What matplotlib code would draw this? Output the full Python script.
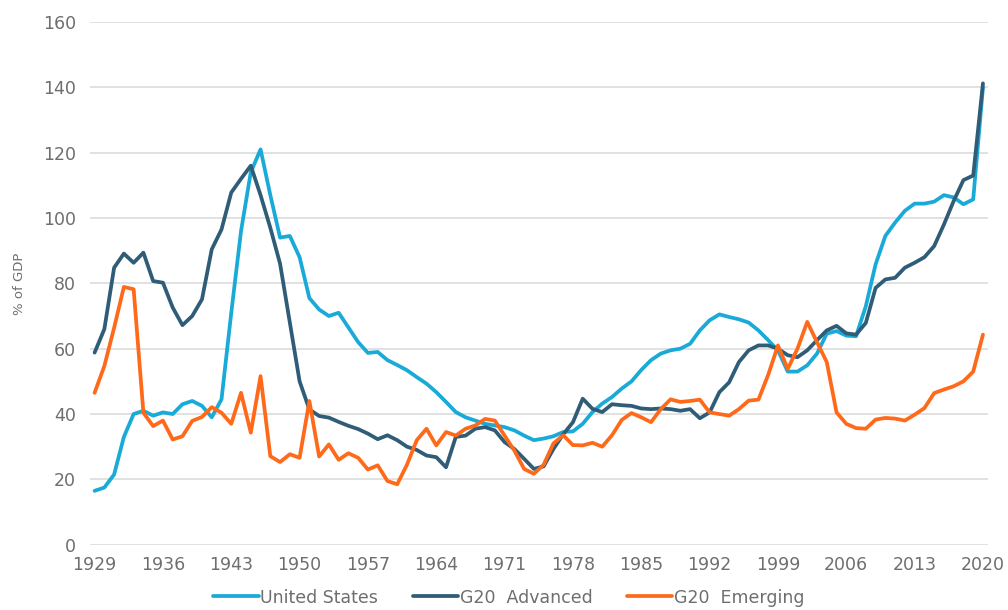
import matplotlib
matplotlib.use("Agg")
import matplotlib.pyplot as plt

years = list(range(1929, 2021))

united_states = [
    16.5, 17.5, 21.5, 33, 40, 41, 39.5, 40.5, 40, 43,
    44, 42.5, 39, 44.5, 71, 96, 114, 121, 107, 94,
    94.5, 88, 75.5, 72, 70, 71, 66.5, 62, 58.7, 59,
    56.5, 55, 53.4, 51.3, 49.3, 46.7, 43.7, 40.6, 39, 38,
    37, 36.5, 36, 35, 33.4, 32, 32.5, 33.2, 34.5, 34.7,
    37, 40.6, 43.2, 45.2, 47.8, 50, 53.5, 56.5, 58.5, 59.5,
    60, 61.5, 65.6, 68.7, 70.5, 69.7, 69, 68, 65.6, 62.6,
    59.5, 53, 53, 54.9, 58.5, 64.6, 65.4, 64, 63.8, 73,
    85.8, 94.5, 98.6, 102.2, 104.4, 104.4, 105, 107, 106.3, 104.2,
    105.7, 140,
]

g20_advanced = [
    58.8, 66, 84.8, 89.1, 86.3, 89.4, 80.7, 80.2, 72.6, 67.2,
    70, 75.1, 90.4, 96.5, 107.8, 112, 116, 107, 97, 86,
    68, 50, 41.4, 39.4, 38.9, 37.6, 36.4, 35.4, 34, 32.3,
    33.5, 32, 30, 29, 27.3, 26.8, 23.7, 33, 33.4, 35.5,
    36, 35, 31.4, 29.3, 26.3, 23.2, 24, 29.3, 33.8, 37.5,
    44.7, 41.6, 40.6, 43, 42.7, 42.5, 41.7, 41.5, 41.7, 41.5,
    41, 41.5, 38.7, 40.5, 46.7, 49.7, 55.9, 59.5, 61, 61,
    60, 58, 57.4, 59.5, 62.6, 65.6, 67, 64.7, 64.3, 67.9,
    78.6, 81.2, 81.7, 84.8, 86.3, 88, 91.4, 98, 105.2, 111.6,
    113, 141.2,
]

g20_emerging = [
    46.5, 54.7, 66.4, 78.9, 78.2, 40.4, 36.3, 38, 32.2, 33.2,
    37.9, 39.1, 42.1, 40.4, 37, 46.5, 34.3, 51.6, 27.1, 25.3,
    27.7, 26.6, 44, 27, 30.7, 26, 28, 26.6, 23, 24.3,
    19.5, 18.5, 24.5, 32, 35.5, 30.4, 34.5, 33.4, 35.5, 36.5,
    38.5, 38, 33.4, 28.8, 23.2, 21.7, 24.5, 31, 33.5, 30.5,
    30.4, 31.2, 30, 33.5, 38.2, 40.3, 39, 37.5, 41.5, 44.5,
    43.7, 44, 44.4, 40.5, 40, 39.5, 41.5, 44.1, 44.4, 52,
    61, 53.8, 60, 68.2, 62, 55.9, 40.5, 37, 35.7, 35.5,
    38.3, 38.8, 38.6, 38, 39.8, 41.8, 46.4, 47.5, 48.5, 50,
    53, 64.3,
]

series_names = ["United States", "G20  Advanced", "G20  Emerging"]
series_colors = ["#19AAD8", "#2F5C76", "#FF6A1A"]
x_tick_years = list(range(1929, 2021, 7))
y_ticks = list(range(0, 161, 20))

text_color = "#6E6E6E"
plt.rcParams["font.family"] = ["DejaVu Sans"]

fig = plt.figure(figsize=(10.08, 6.10), dpi=100)
ax = fig.add_axes([0.089, 0.107, 0.891, 0.857])

for vals, name, col in zip([united_states, g20_advanced, g20_emerging],
                           series_names, series_colors):
    ax.plot(years, vals, color=col, lw=2.7, label=name,
            solid_joinstyle="round", solid_capstyle="round")

ax.set_xlim(1928.5, 2020.5)
ax.set_ylim(0, 160)
ax.set_yticks(y_ticks)
ax.set_xticks(x_tick_years)
ax.set_xticklabels([str(y) for y in x_tick_years])
ax.grid(axis="y", color="#D9D9D9", lw=1.1)
ax.set_axisbelow(True)
for s in ax.spines.values():
    s.set_visible(False)
ax.tick_params(axis="both", length=0, labelsize=12.5, colors=text_color)
ax.tick_params(axis="x", pad=8)
ax.tick_params(axis="y", pad=10)
ax.set_ylabel("% of GDP", fontsize=9.5, color=text_color, labelpad=12)

fig.legend(loc="lower center", bbox_to_anchor=(0.505, -0.02), ncol=3,
           frameon=False, fontsize=12.5, handlelength=2.6, handletextpad=0.1,
           columnspacing=2.0, labelcolor=text_color)

fig.savefig("out.png", dpi=100)
